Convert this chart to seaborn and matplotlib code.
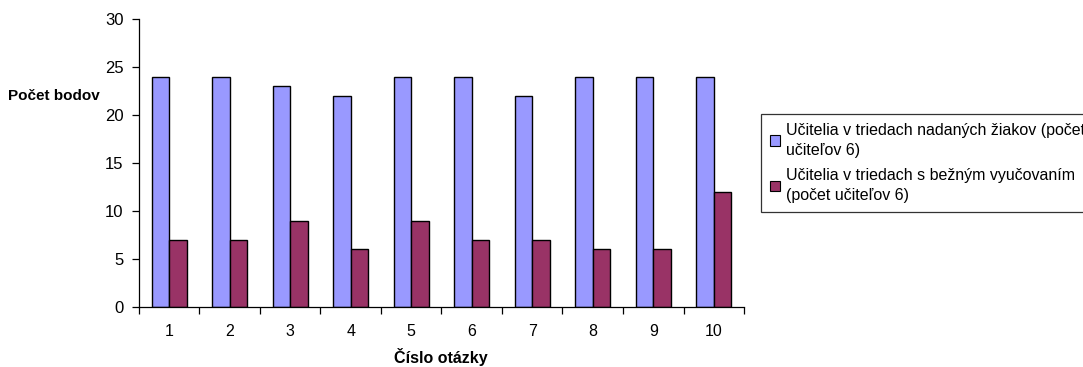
import matplotlib
matplotlib.use("Agg")
import matplotlib.pyplot as plt
from matplotlib.ticker import FixedLocator
import seaborn as sns
import pandas as pd

questions = ["1", "2", "3", "4", "5", "6", "7", "8", "9", "10"]
series_names = [
    "Učitelia v triedach nadaných žiakov (počet\nučiteľov 6)",
    "Učitelia v triedach s bežným vyučovaním\n(počet učiteľov 6)",
]
gifted_scores = [24, 24, 23, 22, 24, 24, 22, 24, 24, 24]
regular_scores = [7, 7, 9, 6, 9, 7, 7, 6, 6, 12]
y_ticks = [0, 5, 10, 15, 20, 25, 30]
bar_colors = ["#9999FF", "#993366"]

df = pd.DataFrame({
    "otazka": questions * 2,
    "body": gifted_scores + regular_scores,
    "skupina": [series_names[0]] * len(questions) + [series_names[1]] * len(questions),
})

sns.set_theme(style="white")
plt.rcParams["font.family"] = ["Liberation Sans", "DejaVu Sans"]
plt.rcParams["text.color"] = "black"

fig = plt.figure(figsize=(10.83, 3.67), dpi=100)
ax = fig.add_axes([0.1283, 0.1635, 0.5587, 0.7845])

sns.barplot(
    data=df, x="otazka", y="body", hue="skupina",
    order=questions, hue_order=series_names,
    palette=bar_colors, width=0.58, dodge=True,
    edgecolor="black", linewidth=1.0, saturation=1, ax=ax,
)

ax.set_xlim(-0.5, len(questions) - 0.5)
ax.set_ylim(0, 30)
ax.set_yticks(y_ticks)
ax.set_yticklabels([str(v) for v in y_ticks])

for side in ["top", "right"]:
    ax.spines[side].set_visible(False)
for side in ["left", "bottom"]:
    ax.spines[side].set_color("black")
    ax.spines[side].set_linewidth(0.9)

# category labels at centres, tick marks on category boundaries
ax.tick_params(axis="x", which="major", length=0, pad=12, labelsize=11.5,
               colors="black", labelcolor="black")
ax.xaxis.set_minor_locator(FixedLocator([i - 0.5 for i in range(len(questions) + 1)]))
ax.tick_params(axis="x", which="minor", length=5, width=0.9, direction="out", color="black", bottom=True)
ax.tick_params(axis="y", which="major", length=5, width=0.9, direction="out", left=True,
               labelsize=12, colors="black", labelcolor="black", pad=6)

ax.set_xlabel("")
ax.set_ylabel("")
fig.text(0.407, 0.027, "Číslo otázky", fontsize=11.5, fontweight="bold",
         ha="center", va="center", color="black")
fig.text(0.007, 0.738, "Počet bodov", fontsize=11, fontweight="bold",
         ha="left", va="center", color="black")

leg = ax.legend(
    loc="upper left", bbox_to_anchor=(0.7027, 0.689), bbox_transform=fig.transFigure,
    frameon=True, fancybox=False, edgecolor="black", fontsize=11.5,
    handlelength=0.65, handleheight=0.65, handletextpad=0.35, labelspacing=0.65,
    borderpad=0.55, borderaxespad=0,
)
leg.get_frame().set_linewidth(0.9)
for t in leg.get_texts():
    t.set_linespacing(1.4)
    t.set_color("black")
for h in leg.legend_handles:
    h.set_edgecolor("black")
    h.set_linewidth(0.8)

fig.savefig("out.png", dpi=100)
